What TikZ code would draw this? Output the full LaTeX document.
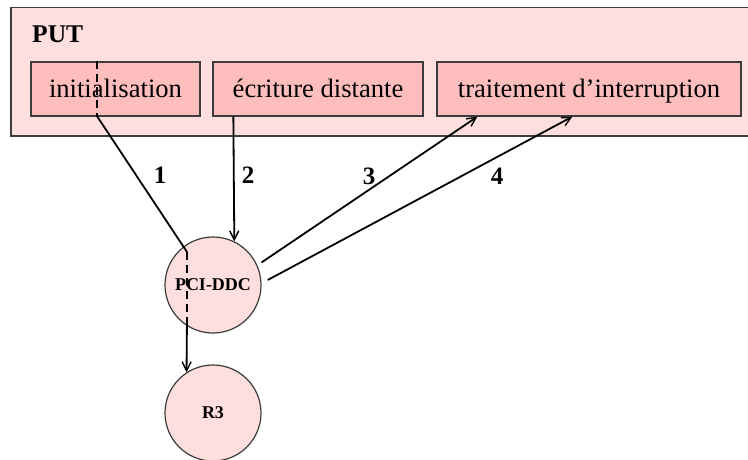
\documentclass[tikz,border=0pt]{standalone}
\usepackage{fontspec}
\setmainfont{Liberation Serif}
\usetikzlibrary{arrows.meta}
\definecolor{putpink}{RGB}{255,222,222}
\definecolor{boxpink}{RGB}{255,190,190}
\definecolor{edgegrey}{RGB}{60,60,60}

\tikzset{
    putframe/.style={rectangle, draw=edgegrey, fill=putpink, line width=1.8pt, inner sep=0pt},
    taskbox/.style={rectangle, draw=edgegrey, fill=boxpink, line width=1.3pt, inner sep=0pt,
        minimum height=54pt, font=\fontsize{26.6}{30}\selectfont, text height=18pt, text depth=0pt},
    unit/.style={circle, draw=edgegrey, fill=putpink, line width=1.2pt, minimum size=96pt, inner sep=0pt,
        font=\fontsize{18}{20}\selectfont\bfseries},
    steplabel/.style={font=\fontsize{25}{28}\selectfont\bfseries, inner sep=0pt},
    flow/.style={line width=1.8pt, -{Straight Barb[length=9pt,width=9pt,line width=1.4pt]}},
    seen/.style={line width=1.8pt, dash pattern=on 8pt off 5pt}
}

\begin{document}
\begin{tikzpicture}[x=1pt, y=-1pt]
        \useasboundingbox (0,0) rectangle (748,460);

        \node[putframe, minimum width=741pt, minimum height=128.5pt] at (381.5,71.75) (put) {};
        \node[anchor=base west, font=\fontsize{25.5}{28}\selectfont\bfseries, inner sep=0pt] at (32,43) (putname) {PUT};

        \node[taskbox, minimum width=169pt] at (115.5,89) (init)  {initialisation};
        \node[taskbox, minimum width=210pt] at (318,89)   (ecrit) {écriture distante};
        \node[taskbox, minimum width=304pt] at (589,89)   (trait) {traitement d’interruption};

        \node[unit] at (213,285) (pci) {PCI-DDC};
        \node[unit] at (213,413) (rthree) {R3};

        \coordinate (initin)  at ([xshift=67pt]init.north west);
        \coordinate (initout) at ([xshift=67pt]init.south west);
        \coordinate (pciin)   at (187,252);
        \coordinate (pciout)  at (187,317);

        % 1
        \draw [seen] (initin) -- (initout);
        \draw [line width=1.8pt] (initout) -- (pciin);
        \draw [seen] (pciin) -- (pciout);
        \draw [flow] (pciout) -- (rthree.123);
        % 2, 3, 4
        \draw [flow] ([xshift=21pt]ecrit.south west) -- (pci.64);
        \draw [flow, shorten <=5pt] (pci.24) -- ([xshift=41pt]trait.south west);
        \draw [flow, shorten <=7pt] (pci.2) -- ([xshift=136pt]trait.south west);

        \node[steplabel] at (160,175) (lab1) {1};
        \node[steplabel] at (248,175) (lab2) {2};
        \node[steplabel] at (369,176) (lab3) {3};
        \node[steplabel] at (497,176) (lab4) {4};
    \end{tikzpicture}
\end{document}
